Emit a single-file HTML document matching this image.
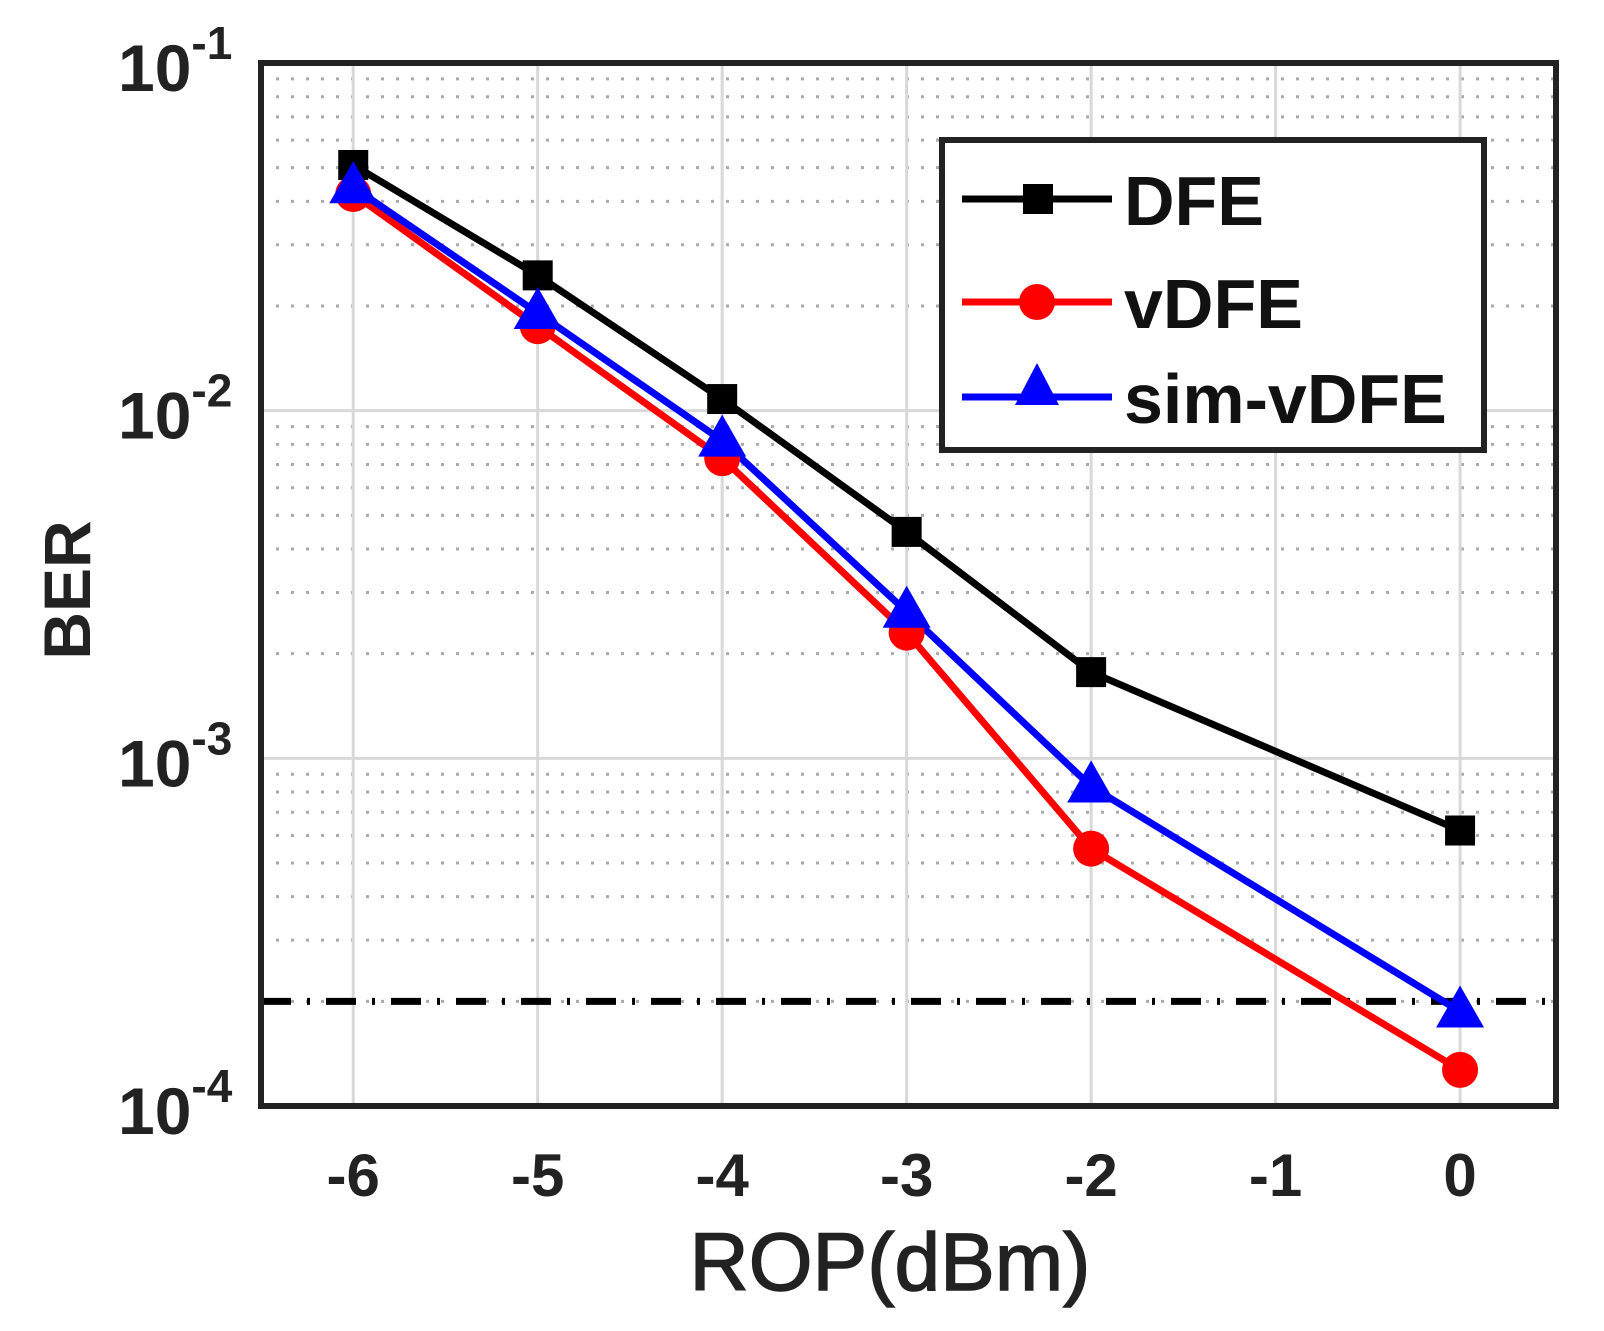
<!DOCTYPE html>
<html><head><meta charset="utf-8"><style>
html,body{margin:0;padding:0;background:#fff;}
svg{display:block;font-family:"Liberation Sans",Arial,sans-serif;}
</style></head><body>
<svg id="chart" width="1604" height="1331" viewBox="0 0 1604 1331" xmlns="http://www.w3.org/2000/svg">
<g id="grid"></g>
<g id="series"></g>
<rect x="261" y="63" width="1295" height="1043" fill="none" stroke="#222" stroke-width="6"/>
<g id="ticks"></g>
<text x="0" y="0" transform="translate(90,590) rotate(-90)" text-anchor="middle" font-size="66" font-weight="bold" fill="#222">BER</text>
<text x="890" y="1290" text-anchor="middle" font-size="82" fill="#222" stroke="#222" stroke-width="1.5">ROP(dBm)</text>
<g>
<rect x="942" y="140" width="542" height="310" fill="#fff" stroke="#222" stroke-width="6"/>
<g>
<line x1="962" y1="199" x2="1112" y2="199" stroke="#000" stroke-width="7"/>
<rect x="1023" y="184" width="30" height="30" fill="#000"/>
<text x="1124" y="225" font-size="70" font-weight="bold" fill="#111">DFE</text></g>
<g>
<line x1="962" y1="302" x2="1112" y2="302" stroke="#f00" stroke-width="7"/>
<circle cx="1037" cy="302" r="18" fill="#f00"/>
<text x="1124" y="328" font-size="70" font-weight="bold" fill="#111">vDFE</text></g>
<g>
<line x1="962" y1="397" x2="1112" y2="397" stroke="#00f" stroke-width="7"/>
<polygon points="1037,363 1015,405 1059,405" fill="#00f"/>
<text x="1124" y="423" font-size="70" font-weight="bold" fill="#111">sim-vDFE</text></g>
</g>
</svg>
<script>
const xCats = [-6, -5, -4, -3, -2, 0];
const dfe = [0.0509, 0.0245, 0.0108, 0.00448, 0.00177, 0.00062];
const vdfe = [0.042, 0.0175, 0.0073, 0.0023, 0.00055, 0.000127];
const simVdfe = [0.0439, 0.0191, 0.0082, 0.00264, 0.00083, 0.000187];
const threshold = 0.0002;
const xTicks = [-6, -5, -4, -3, -2, -1, 0];
const yDecades = [-1, -2, -3, -4];

const L=261,R=1556,T=63,B=1106;
const XMIN=-6.5, XMAX=0.52;
function xs(v){return L+(v-XMIN)/(XMAX-XMIN)*(R-L);}
function ys(v){return T+(-1-Math.log10(v))/3*(B-T);}
const NS="http://www.w3.org/2000/svg";
function mk(tag,attrs,parent){const e=document.createElementNS(NS,tag);for(const k in attrs)e.setAttribute(k,attrs[k]);parent.appendChild(e);return e;}
const grid=document.getElementById('grid');
for(let d=-4;d<-1;d++){
  for(let m=2;m<=9;m++){
    const y=ys(m*Math.pow(10,d));
    const l=mk('line',{x1:L,x2:R,y1:y,y2:y,stroke:'#aaa','stroke-width':3,'stroke-dasharray':'3 12'},grid);
    
    
  }
}
yDecades.forEach(d=>{const y=ys(Math.pow(10,d));
  const l=mk('line',{x1:L,x2:R,y1:y,y2:y,stroke:'#d8d8d8','stroke-width':3},grid);
  
  
});
xTicks.forEach(t=>{const x=xs(t);
  const l=mk('line',{x1:x,x2:x,y1:T,y2:B,stroke:'#d8d8d8','stroke-width':3},grid);
  
  
});
const dl=mk('line',{x1:L,x2:R,y1:ys(threshold),y2:ys(threshold),stroke:'#000','stroke-width':7,'stroke-dasharray':'30 16 3 16'},grid);



const ser=document.getElementById('series');
function line(vals,color,name){
  const pts=xCats.map((c,i)=>xs(c)+','+ys(vals[i])).join(' ');
  const p=mk('polyline',{points:pts,fill:'none',stroke:color,'stroke-width':7,'stroke-linejoin':'round'},ser);
  
  
}
line(dfe,'#000','dfe');line(vdfe,'#f00','vdfe');line(simVdfe,'#00f','sim-vdfe');
xCats.forEach((c,i)=>{
  const x=xs(c),y=ys(dfe[i]);
  const r=mk('rect',{x:x-15,y:y-15,width:30,height:30,fill:'#000'},ser);
  
  
});
xCats.forEach((c,i)=>{
  const ci=mk('circle',{cx:xs(c),cy:ys(vdfe[i]),r:18,fill:'#f00'},ser);
  
  
});
xCats.forEach((c,i)=>{
  const x=xs(c),y=ys(simVdfe[i]);
  const p=mk('polygon',{points:`${x},${y-26} ${x-24},${y+16} ${x+24},${y+16}`,fill:'#00f'},ser);
  
  
});
const tk=document.getElementById('ticks');
xTicks.forEach(t=>{
  const e=mk('text',{x:xs(t),y:1196,'text-anchor':'middle','font-size':60,'font-weight':'bold',fill:'#222'},tk);
  e.textContent=String(t);
  
  
});
yDecades.forEach(d=>{
  const y=ys(Math.pow(10,d));
  const e=mk('text',{x:118,y:y+28,'font-size':66,'font-weight':'bold',fill:'#222'},tk);
  e.textContent='10';
  const s=mk('tspan',{dy:-32,'font-size':46},e);
  s.textContent=String(d);
  
  
});
</script>
</body></html>
